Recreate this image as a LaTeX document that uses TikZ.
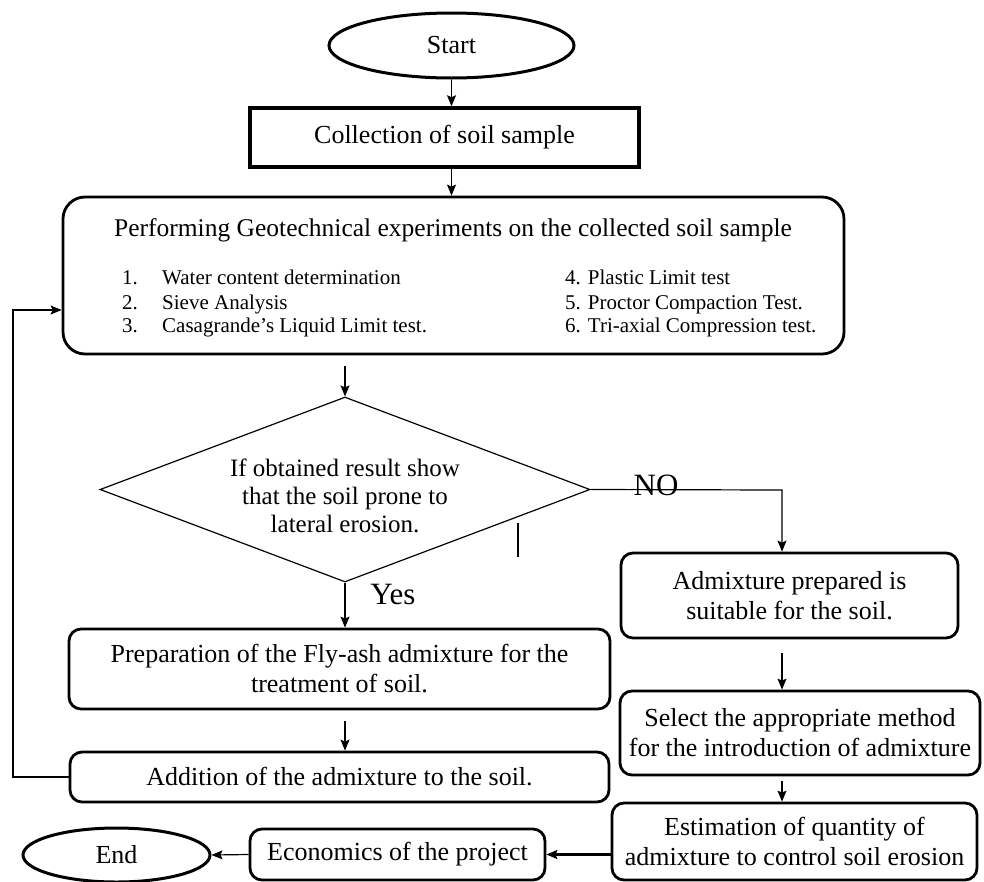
\documentclass[tikz,border=0pt]{standalone}
\usepackage{fontspec}
\setmainfont{Liberation Serif}
\usetikzlibrary{shapes.geometric,arrows.meta}

\begin{document}
\begin{tikzpicture}[x=1pt,y=-1pt,
    every node/.style={font=\fontsize{26}{30}\selectfont, align=center, inner sep=0pt},
    term/.style={draw, ellipse, line width=3pt},
    block/.style={draw, rectangle, rounded corners=12pt, line width=2.8pt},
    listitem/.style={font=\fontsize{21}{24}\selectfont, anchor=base west},
    bigword/.style={font=\fontsize{31}{31}\selectfont},
    arr/.style={-{Stealth[length=11pt,width=9pt,inset=2pt]}, line width=1.2pt}]
        \useasboundingbox (0,0) rectangle (984,881);
        % \draw[step=50,gray,very thin] (0,0) grid (984,881);

        % start and sampling
        \node[term, minimum width=245pt, minimum height=65pt] (start) at (451.5,45.5) {Start};
        \node[draw, line width=3.5pt, minimum width=389pt, minimum height=59pt] (collect) at (444.5,137.5) {Collection of soil sample};

        % experiments
        \node[block, rounded corners=22pt, minimum width=781pt, minimum height=157pt] (tests) at (453.5,275.5) {};
        \node[font=\fontsize{25.5}{30}\selectfont] (testtitle) at (453,230) {Performing Geotechnical experiments on the collected soil sample};
        \node[listitem] (num1) at (122,284) {1.};
        \node[listitem] (num2) at (122,309) {2.};
        \node[listitem] (num3) at (122,332) {3.};
        \node[listitem] (item1) at (162,284) {Water content determination};
        \node[listitem] (item2) at (162,309) {Sieve Analysis};
        \node[listitem] (item3) at (162,332) {Casagrande's Liquid Limit test.};
        \node[listitem] (item4) at (565,284) {4. Plastic Limit test};
        \node[listitem] (item5) at (565,309) {5. Proctor Compaction Test.};
        \node[listitem] (item6) at (565,332) {6. Tri-axial Compression test.};

        % decision
        \node[draw, diamond, line width=1.2pt, minimum width=490pt, minimum height=185pt] (check) at (345,489.5) {};
        \node[font=\fontsize{25}{28}\selectfont] (checktext) at (345,496) {If obtained result show\\that the soil prone to\\lateral erosion.};
        \node[bigword] (no) at (656,485) {NO};
        \node[bigword] (yes) at (393,594) {Yes};
        \draw[line width=1.2pt] (518,523) -- (518,557);

        % yes branch
        \node[block, minimum width=541pt, minimum height=80pt] (prep) at (339.5,669) {Preparation of the Fly-ash admixture for the\\treatment of soil.};
        \node[block, minimum width=539pt, minimum height=50pt] (addmix) at (339.5,777) {Addition of the admixture to the soil.};

        % no branch
        \node[block, minimum width=337pt, minimum height=85pt] (suit) at (789.5,595.5) {Admixture prepared is\\suitable for the soil.};
        \node[block, minimum width=360pt, minimum height=84pt] (method) at (800,733) {Select the appropriate method\\for the introduction of admixture};
        \node[block, minimum width=365pt, minimum height=77pt] (estim) at (794.5,841.5) {Estimation of quantity of\\admixture to control soil erosion};
        \node[block, minimum width=295pt, minimum height=51pt] (econ) at (397.5,854.5) {Economics of the project};
        \node[term, minimum width=187pt, minimum height=54pt] (finish) at (116.5,855) {End};

        % connectors
        \coordinate (nobend) at (782,490);
        \coordinate (loop) at (13,310);
        \draw[arr] (start.south) -- (start.south |- collect.north);
        \draw[arr] (collect.south -| start.south) -- (start.south |- tests.north);
        \draw[arr] ([yshift=-11pt]tests.south -| check.north) -- (check.north);
        \draw[arr] (check.east) -- (nobend) -- (nobend |- suit.north);
        \draw[arr] (check.south) -- (check.south |- prep.north);
        \draw[arr] ([yshift=-11pt]prep.south -| check.south) -- (check.south |- addmix.north);
        \draw[arr] (addmix.west) -| (loop) -- (loop -| tests.west);
        \draw[arr] ([yshift=-14pt]suit.south -| nobend) -- (nobend |- method.north);
        \draw[arr] ([yshift=-5pt]method.south -| nobend) -- (nobend |- estim.north);
        \draw[arr, line width=2.4pt] (estim.west |- econ.east) -- (econ.east);
        \draw[arr] (econ.west) -- (finish.east);

      \end{tikzpicture}
\end{document}
